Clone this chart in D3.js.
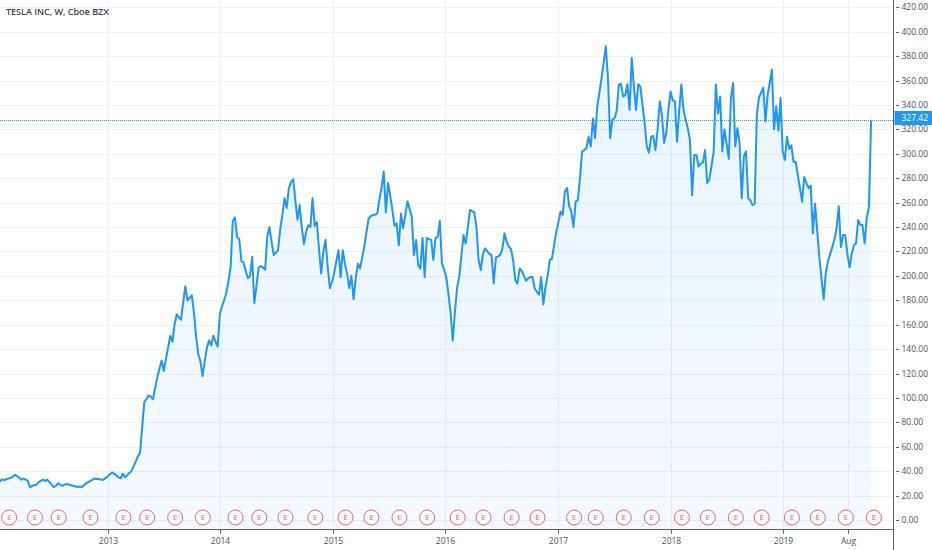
<!DOCTYPE html>
<html>
<head>
<meta charset="utf-8">
<script src="https://cdn.jsdelivr.net/npm/d3@7"></script>
<style>
  html, body { margin: 0; padding: 0; background: #fff; }
  svg { display: block; font-family: "Open Sans", sans-serif; }
</style>
</head>
<body>
<div id="chart"></div>
<script>
// ##################################
//  DATA
// ##################################

const title = "TESLA INC, W, Cboe BZX"
const firstWeek = "2012-01-09" // weekly bars, one value per week from here

// weekly closes
const weeklyCloses = [
  30.7, 31.5, 33.4, 32.5, 33.5, 34, 34.5, 35.5, 37, 36,
  34.5, 33, 34, 33, 32, 26.6, 28, 28.5, 29, 31,
  32, 33, 32, 33, 31, 29, 27, 28, 30, 29,
  28, 29, 29.5, 29, 28.5, 28, 27.5, 27, 27.5, 27,
  28.5, 30, 31, 32, 33, 34, 33.5, 33.5, 33, 33,
  34.5, 35.5, 37.5, 38.9, 38, 36.5, 35, 34, 38, 35,
  36.5, 38.5, 40, 44, 48, 52, 55, 76, 97, 99,
  102, 101, 99, 108, 117, 124, 130.7, 122, 132, 141,
  151, 146, 160, 168.5, 166, 164, 178, 191.5, 180, 182,
  184, 170, 150, 136, 130, 118, 130, 141, 147, 143,
  151, 146, 142, 169, 175, 180, 186, 196, 207, 245,
  248, 232, 230, 212, 211, 204, 198, 200, 215.6, 177.5,
  192, 207, 208, 207, 205, 232, 240, 228, 217, 219,
  221, 238, 250, 263.6, 255.5, 271.8, 277, 279, 262, 246,
  258, 240, 226, 236, 241.5, 240, 263.5, 241, 244, 222,
  202, 220, 229.5, 208, 190, 195, 202, 212, 221, 199,
  221, 210, 202, 190, 200, 181, 198, 210, 206, 215,
  224, 236, 247, 249, 250, 250, 251, 263, 272, 285.5,
  252, 276, 266, 254, 241, 243, 225, 251, 239, 250,
  261, 255, 248.5, 217, 229.5, 209, 206, 231, 199, 231,
  230, 229.5, 213, 231, 232, 245, 210, 205, 199, 185,
  170, 147, 170, 190, 199, 216, 233.4, 226.6, 240, 254,
  253, 252, 240, 213, 204.7, 218, 222.5, 220, 218, 217,
  193.7, 215, 216, 217, 222, 234.8, 228, 224, 222, 213,
  196.4, 193.7, 206, 204, 200, 196, 198, 199, 199, 189.6,
  187, 184.5, 199, 176.7, 190.8, 200, 213, 214, 225, 236,
  244, 252.6, 250, 269, 272, 257, 252.6, 240, 260.8, 262,
  280, 302, 303, 304.7, 314, 306, 329, 313, 339, 350,
  362, 375, 388, 361, 313, 328, 329, 335, 356.7, 357.5,
  347, 348, 357, 336, 378.6, 355, 336, 357, 355, 340,
  325, 306, 301, 314, 314.5, 303, 320, 343, 332, 309,
  317, 336, 351, 344, 343, 310, 335, 356.7, 336, 328,
  321, 311, 266, 299, 299, 289.6, 292, 293, 303, 276,
  279, 290, 302, 356.7, 333, 347, 302, 320, 308, 296,
  346, 358, 306, 321, 309, 263.5, 298, 302, 263.5, 262,
  258, 259, 332, 346, 350, 354, 326.6, 348, 358, 369,
  320, 339, 319, 346, 302, 295, 314, 304, 307, 293.5,
  293.5, 282.7, 272, 260.8, 281, 276, 271.8, 274, 235, 259,
  237, 215, 197.8, 181, 203, 212, 218, 223.6, 230, 239,
  257, 223.6, 233.5, 233.5, 218, 207, 218, 225, 226.5, 245.7,
  241.7, 241.7, 226.5, 248, 256.5, 327.42
]

const lastLabel = "327.42"

// earnings report dates (the "E" badges)
const earningsDates = [
  "2012-02-15", "2012-05-09", "2012-07-25", "2012-11-05",
  "2013-02-20", "2013-05-08", "2013-08-07", "2013-11-05",
  "2014-02-19", "2014-05-07", "2014-07-31", "2014-11-05",
  "2015-02-11", "2015-05-06", "2015-08-05", "2015-11-03",
  "2016-02-10", "2016-05-04", "2016-08-03", "2016-10-26",
  "2017-02-22", "2017-05-03", "2017-08-02", "2017-11-01",
  "2018-02-07", "2018-05-02", "2018-08-01", "2018-10-24",
  "2019-01-30", "2019-04-24", "2019-07-24", "2019-10-23",
]

const xTickDates = ["2013-01-01", "2014-01-01", "2015-01-01", "2016-01-01",
  "2017-01-01", "2018-01-01", "2019-01-01", "2019-08-01"]
const xTickLabels = ["2013", "2014", "2015", "2016", "2017", "2018", "2019", "Aug"]

const yTicks = [0, 20, 40, 60, 80, 100, 120, 140, 160, 180, 200,
  220, 240, 260, 280, 300, 320, 340, 360, 380, 400, 420]

// ##################################
//  LAYOUT
// ##################################

const width = 932
const height = 550
const plotRight = 893.5
const plotBottom = 529.5
const lineColor = "#2196f3"
const textColor = "#4a4f5a"
const gridColor = "#eef1f6"

const parseDate = d3.timeParse("%Y-%m-%d")
const start = parseDate(firstWeek)
const data = weeklyCloses.map((v, i) => ({ date: d3.timeWeek.offset(start, i), value: v }))

const x = d3.scaleTime()
  .domain([parseDate("2013-01-01"), parseDate("2019-01-01")])
  .range([108, 783])

const y = d3.scaleLinear()
  .domain([0, 420])
  .range([520, 7.3])

const svg = d3.select("#chart")
  .append("svg")
  .attr("width", width)
  .attr("height", height)

const defs = svg.append("defs")
defs.append("clipPath").attr("id", "plot-clip")
  .append("rect")
  .attr("x", 0).attr("y", 0)
  .attr("width", plotRight).attr("height", plotBottom)

const grad = defs.append("linearGradient")
  .attr("id", "area-grad")
  .attr("x1", 0).attr("y1", 0).attr("x2", 0).attr("y2", 1)
grad.append("stop").attr("offset", "0%").attr("stop-color", lineColor).attr("stop-opacity", 0.1)
grad.append("stop").attr("offset", "100%").attr("stop-color", lineColor).attr("stop-opacity", 0.05)

// ##################################
//  GRID
// ##################################

const grid = svg.append("g")
grid.selectAll("line.h")
  .data(yTicks)
  .join("line")
  .attr("class", "h")
  .attr("x1", 0).attr("x2", plotRight)
  .attr("y1", (d) => Math.round(y(d)) + 0.5)
  .attr("y2", (d) => Math.round(y(d)) + 0.5)
  .attr("stroke", gridColor)

grid.selectAll("line.v")
  .data(xTickDates)
  .join("line")
  .attr("class", "v")
  .attr("x1", (d) => Math.round(x(parseDate(d))) + 0.5)
  .attr("x2", (d) => Math.round(x(parseDate(d))) + 0.5)
  .attr("y1", 0).attr("y2", plotBottom)
  .attr("stroke", gridColor)

// ##################################
//  SERIES
// ##################################

const plot = svg.append("g").attr("clip-path", "url(#plot-clip)")

const area = d3.area()
  .x((d) => x(d.date))
  .y0(plotBottom)
  .y1((d) => y(d.value))

const line = d3.line()
  .x((d) => x(d.date))
  .y((d) => y(d.value))

plot.append("path")
  .datum(data)
  .attr("fill", "url(#area-grad)")
  .attr("d", area)

plot.append("path")
  .datum(data)
  .attr("fill", "none")
  .attr("stroke", lineColor)
  .attr("stroke-width", 2)
  .attr("stroke-linejoin", "round")
  .attr("d", line)

// last price dotted line
const lastY = Math.round(y(weeklyCloses[weeklyCloses.length - 1])) + 0.5
svg.append("line")
  .attr("x1", 0).attr("x2", plotRight)
  .attr("y1", lastY).attr("y2", lastY)
  .attr("stroke", lineColor)
  .attr("stroke-width", 1)
  .attr("stroke-dasharray", "1,1")

// earnings badges
const badges = svg.append("g")
  .selectAll("g")
  .data(earningsDates)
  .join("g")
  .attr("transform", (d) => `translate(${x(parseDate(d))}, 517.5)`)

badges.append("circle")
  .attr("r", 7.5)
  .attr("fill", "#fff")
  .attr("stroke", "#e8607a")
  .attr("stroke-width", 1)

badges.append("text")
  .attr("text-anchor", "middle")
  .attr("dy", "0.35em")
  .attr("font-size", 8)
  .attr("fill", "#e8607a")
  .text("E")

// ##################################
//  AXES
// ##################################

const yAxis = svg.append("g").attr("transform", `translate(${plotRight}, 0)`)
yAxis.append("line")
  .attr("x1", 0).attr("x2", 0)
  .attr("y1", 0).attr("y2", height)
  .attr("stroke", "#5d606b")
const yt = yAxis.selectAll("g.tick")
  .data(yTicks)
  .join("g")
  .attr("class", "tick")
  .attr("transform", (d) => `translate(0, ${Math.round(y(d)) + 0.5})`)
yt.append("line").attr("x1", 2.5).attr("x2", 5.5).attr("stroke", "#5d606b")
yt.append("text")
  .attr("x", 8)
  .attr("dy", "0.35em")
  .attr("font-size", 8.5)
  .attr("fill", textColor)
  .text((d) => d3.format(".2f")(d))

// last price tag, sits slightly above the dotted line like the reference
const tag = yAxis.append("g").attr("transform", `translate(0, ${lastY - 2})`)
tag.append("rect")
  .attr("x", 1).attr("y", -7.5)
  .attr("width", 38).attr("height", 14)
  .attr("fill", lineColor)
tag.append("text")
  .attr("x", 8)
  .attr("dy", "0.3em")
  .attr("font-size", 8.5)
  .attr("fill", "#fff")
  .text(lastLabel)

const xAxis = svg.append("g").attr("transform", `translate(0, ${plotBottom})`)
xAxis.append("line")
  .attr("x1", 0).attr("x2", plotRight)
  .attr("stroke", "#5d606b")
const xt = xAxis.selectAll("g.tick")
  .data(xTickDates)
  .join("g")
  .attr("class", "tick")
  .attr("transform", (d) => `translate(${Math.round(x(parseDate(d))) + 0.5}, 0)`)
xt.append("line").attr("y1", 0).attr("y2", 4).attr("stroke", "#5d606b")
xt.append("text")
  .attr("y", 14)
  .attr("text-anchor", "middle")
  .attr("font-size", 8.5)
  .attr("fill", textColor)
  .text((d, i) => xTickLabels[i])

// title
svg.append("text")
  .attr("x", 6).attr("y", 15)
  .attr("font-size", 9)
  .attr("font-weight", 600)
  .attr("fill", "#3e4350")
  .text(title)
</script>
</body>
</html>
